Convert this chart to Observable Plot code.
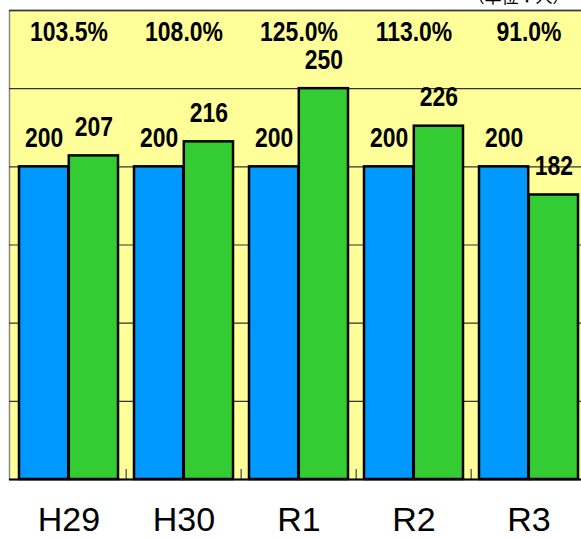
<!DOCTYPE html>
<html>
<head>
<meta charset="utf-8">
<script src="https://cdn.jsdelivr.net/npm/d3@7"></script>
<script src="https://cdn.jsdelivr.net/npm/@observablehq/plot@0.6"></script>
<style>
  html, body { margin: 0; padding: 0; background: #fff; overflow: hidden; }
  #chart svg { display: block; overflow: visible; max-width: none !important; }
</style>
</head>
<body>
<div id="chart"></div>
<script>
const years = ["H29", "H30", "R1", "R2", "R3"];
const planned = [200, 200, 200, 200, 200];
const actual = [207, 216, 250, 226, 182];
const yTicks = [0, 50, 100, 150, 200, 250, 300];
const unitLabel = "（単位：人）";

const W = 587, H = 538, mL = 9, mT = 10, mB = 59;
const step = (W - mL) / years.length;
const outer = 8, half = (step - 2 * outer) / 2;

const rows = years.map((y, i) => ({ year: y, planned: planned[i], actual: actual[i],
  pct: (actual[i] / planned[i] * 100).toFixed(1) + "%" }));

const numFont = "'Liberation Sans', Arial, sans-serif, numlabel";

const chart = Plot.plot({
  width: W, height: H,
  marginLeft: mL, marginRight: 0, marginTop: mT, marginBottom: mB,
  style: { background: "transparent", overflow: "visible", maxWidth: "none" },
  x: { domain: years, padding: 0, label: null, tickSize: 0, tickPadding: 27 },
  y: { domain: [0, 300], axis: null },
  marks: [
    Plot.frame({ fill: "#ffff99", stroke: "#888", strokeWidth: 1.5 }),
    Plot.ruleY(yTicks.slice(1, -1), { stroke: "#333", strokeWidth: 1.2 }),
    Plot.ruleY([300], { stroke: "#333", strokeWidth: 1.5 }),
    Plot.ruleX(years.slice(1), { x: d => d, dx: -step / 2, y1: 0, y2: 6.4, stroke: "#666", strokeWidth: 1.5 }),
    Plot.barY(rows, { x: "year", y: "planned", fill: "#0099ff", stroke: "#000", strokeWidth: 2.5,
      insetLeft: outer, insetRight: outer + half }),
    Plot.barY(rows, { x: "year", y: "actual", fill: "#33cc33", stroke: "#000", strokeWidth: 2.5,
      insetLeft: outer + half, insetRight: outer }),
    Plot.ruleY([0], { stroke: "#000", strokeWidth: 2 }),
    Plot.text(rows, { x: "year", y: "planned", text: d => String(d.planned), dx: -half / 2, dy: -20,
      lineAnchor: "bottom", fontSize: 27, fontWeight: "bold", fontFamily: numFont, fill: "#000" }),
    Plot.text(rows, { x: "year", y: "actual", text: d => String(d.actual), dx: half / 2, dy: -20,
      lineAnchor: "bottom", fontSize: 27, fontWeight: "bold", fontFamily: numFont, fill: "#000" }),
    Plot.text(rows, { x: "year", text: "pct", frameAnchor: "top", dy: 11, lineAnchor: "top",
      fontSize: 27, fontWeight: "bold", fontFamily: numFont, fill: "#000" }),
    Plot.text([unitLabel], { frameAnchor: "top-right", dx: -18, dy: -8, lineAnchor: "bottom",
      fontSize: 17, fontFamily: "'Noto Sans CJK JP', sans-serif", fill: "#000" })
  ]
});
const ax = chart.querySelector("g[aria-label='x-axis tick label']");
if (ax) { ax.setAttribute("font-family", "'Liberation Sans', Arial, sans-serif"); ax.setAttribute("font-size", 34); ax.setAttribute("fill", "#000"); }
chart.querySelectorAll("g[font-family*='numlabel'] text").forEach(t => {
  const tr = t.getAttribute("transform") || "";
  t.setAttribute("transform", tr + " scale(0.85,1)");
});
document.getElementById("chart").appendChild(chart);
</script>
</body>
</html>
